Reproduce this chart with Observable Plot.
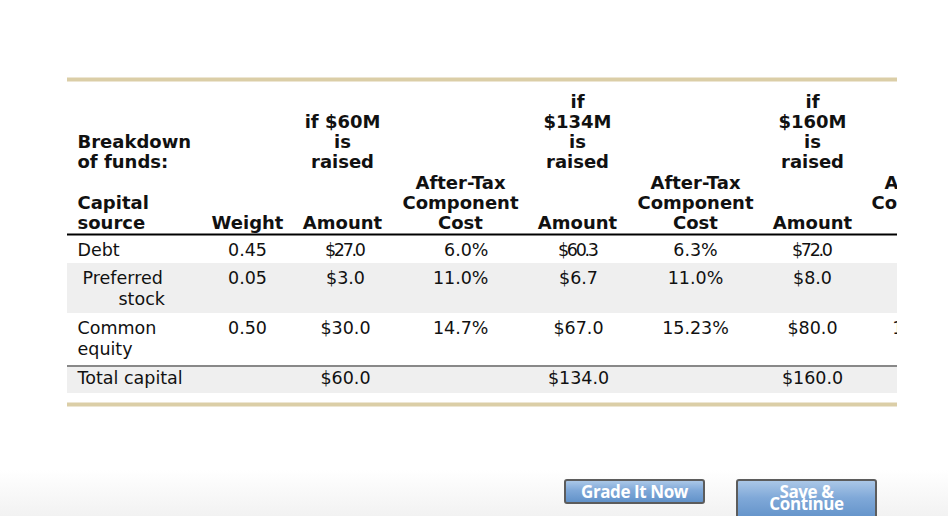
<!DOCTYPE html>
<html>
<head>
<meta charset="utf-8">
<script src="https://cdn.jsdelivr.net/npm/d3@7"></script>
<script src="https://cdn.jsdelivr.net/npm/@observablehq/plot@0.6"></script>
<style>
  html, body { margin: 0; padding: 0; background: #fff; }
  #wrap { position: relative; width: 948px; height: 516px; overflow: hidden;
          background: linear-gradient(to bottom, #fff 0px, #fff 470px, #f2f2f2 516px); }
  #chart svg { display: block; }
  .btn { position: absolute; box-sizing: border-box; border: 2px solid #5c5c5c; border-radius: 3px;
         background: linear-gradient(to bottom, #aac7e7 0%, #7fa8d8 45%, #6292c9 100%);
         color: #fff; font-family: "Open Sans", sans-serif; font-weight: 700; text-align: center;
         letter-spacing: -0.4px; }
</style>
</head>
<body>
<div id="wrap">
  <div id="chart"></div>
  <div class="btn" style="left:564px;top:479px;width:141px;height:25px;font-size:17px;line-height:21px;">Grade It Now</div>
  <div class="btn" style="left:736px;top:479px;width:141px;height:42px;font-size:17px;line-height:12px;padding-top:5px;">Save &amp;<br>Continue</div>
</div>
<script>
// ---------- data ----------
const sourceLabels = ["Debt", "Preferred stock", "Common equity"];
const weights = [0.45, 0.05, 0.50];
const raisedTotals = [60, 134, 160];
const raisedHeadings = ["if $60M\nis\nraised", "if\n$134M\nis\nraised", "if\n$160M\nis\nraised"];
const amounts60 = [27.0, 3.0, 30.0];
const amounts134 = [60.3, 6.7, 67.0];
const amounts160 = [72.0, 8.0, 80.0];
const costs60 = [6.0, 11.0, 14.7];
const costs134 = [6.3, 11.0, 15.23];
const costs160 = [6.6, 11.0, 15.57];   // column is cut off at the right edge (estimated)
const topHeading = "Breakdown\nof funds:";
const sourceHeading = "Capital\nsource";
const weightHeading = "Weight";
const amountHeading = "Amount";
const costHeading = "After-Tax\nComponent\nCost";
const totalLabel = "Total capital";

// ---------- layout (positions / styles) ----------
const W = 948, H = 516;
const L = {
  left: 67, right: 897,
  tanTop: 79, tanBottom: 404,
  headRule: 234, totalRule: 365.5,
  bands: [[263, 313], [367, 393]],
  raisedBase: 167, headBase: 228, subHeadBase: 167,
  rowBase: [255, 283, 333], totalBase: 383,
  labelX: 77, labelIndent: [[0], [5, 41], [0, 0]], bodyLine: 21,
  weightX: 247,
  amountX: [345, 578, 812], amountHeadX: [342, 577, 812],
  costX: [488, 695, 925], costAnchor: ["end", "middle", "middle"], costHeadX: [460, 695, 929]
};
const tan = "#dbcea7", band = "#efefef", ink = "#111";
const HEAD = 18, BODY = 17.5;

const amountCols = [amounts60, amounts134, amounts160];
const costCols = [costs60, costs134, costs160];
const fmtMoney = v => "$" + v.toFixed(1);
const fmtPct = v => (Math.round(v * 10) === v * 10 ? v.toFixed(1) : v.toFixed(2)) + "%";

// header cells
const headStart = [
  {x: L.labelX, y: L.subHeadBase, text: topHeading},
  {x: L.labelX, y: L.headBase, text: sourceHeading}
];
const headMiddle = [{x: L.weightX, y: L.headBase, text: weightHeading}];
raisedTotals.forEach((v, i) => {
  headMiddle.push({x: L.amountHeadX[i], y: L.raisedBase, text: raisedHeadings[i]});
  headMiddle.push({x: L.amountHeadX[i], y: L.headBase, text: amountHeading});
  headMiddle.push({x: L.costHeadX[i], y: L.headBase, text: costHeading});
});

// body cells
const bodyStart = [], bodyMiddle = [], bodyEnd = [];
sourceLabels.forEach((lab, r) => {
  const words = r === 0 ? [lab] : lab.split(" ");
  words.forEach((w, k) => {
    bodyStart.push({x: L.labelX + L.labelIndent[r][k], y: L.rowBase[r] + k * L.bodyLine, text: w});
  });
  bodyMiddle.push({x: L.weightX, y: L.rowBase[r], text: weights[r].toFixed(2)});
  amountCols.forEach((col, c) => bodyMiddle.push({x: L.amountX[c], y: L.rowBase[r], text: fmtMoney(col[r])}));
  costCols.forEach((col, c) => {
    const cell = {x: L.costX[c], y: L.rowBase[r], text: fmtPct(col[r])};
    (L.costAnchor[c] === "end" ? bodyEnd : bodyMiddle).push(cell);
  });
});
bodyStart.push({x: L.labelX, y: L.totalBase, text: totalLabel});
raisedTotals.forEach((v, c) => bodyMiddle.push({x: L.amountX[c], y: L.totalBase, text: fmtMoney(v)}));

const textOpts = (size, weight, anchor, lh) => ({
  x: "x", y: "y", text: "text", textAnchor: anchor, lineAnchor: "bottom",
  fontSize: size, fontWeight: weight, fill: ink, lineHeight: lh, clip: true
});

const chart = Plot.plot({
  width: W, height: H,
  marginTop: 0, marginLeft: 0, marginBottom: 0, marginRight: W - L.right,
  x: {type: "linear", domain: [0, W], range: [0, W], axis: null},
  y: {type: "linear", domain: [0, H], range: [0, H], axis: null},
  style: {fontFamily: "'DejaVu Sans', Verdana, sans-serif", background: "transparent", color: ink},
  marks: [
    Plot.rect(L.bands, {x1: L.left, x2: L.right, y1: d => d[0], y2: d => d[1], fill: band}),
    Plot.ruleY([L.tanTop, L.tanBottom], {x1: L.left, x2: L.right, stroke: tan, strokeWidth: 4}),
    Plot.ruleY([L.headRule], {x1: L.left, x2: L.right, stroke: "#000", strokeWidth: 2}),
    Plot.ruleY([L.totalRule], {x1: L.left, x2: L.right, stroke: "#888", strokeWidth: 2}),
    Plot.text(headStart, textOpts(HEAD, "bold", "start", 20 / HEAD)),
    Plot.text(headMiddle, textOpts(HEAD, "bold", "middle", 20 / HEAD)),
    Plot.text(bodyStart, textOpts(BODY, "normal", "start", 1.2)),
    Plot.text(bodyMiddle, textOpts(BODY, "normal", "middle", 1.2)),
    Plot.text(bodyEnd, textOpts(BODY, "normal", "end", 1.2))
  ]
});
document.getElementById("chart").appendChild(chart);

// the first-row amounts appear squeezed in the original
chart.querySelectorAll("text").forEach(t => {
  if (["$27.0", "$60.3", "$72.0"].includes(t.textContent)) {
    t.setAttribute("textLength", 41);
    t.setAttribute("lengthAdjust", "spacing");
  }
});
</script>
</body>
</html>
